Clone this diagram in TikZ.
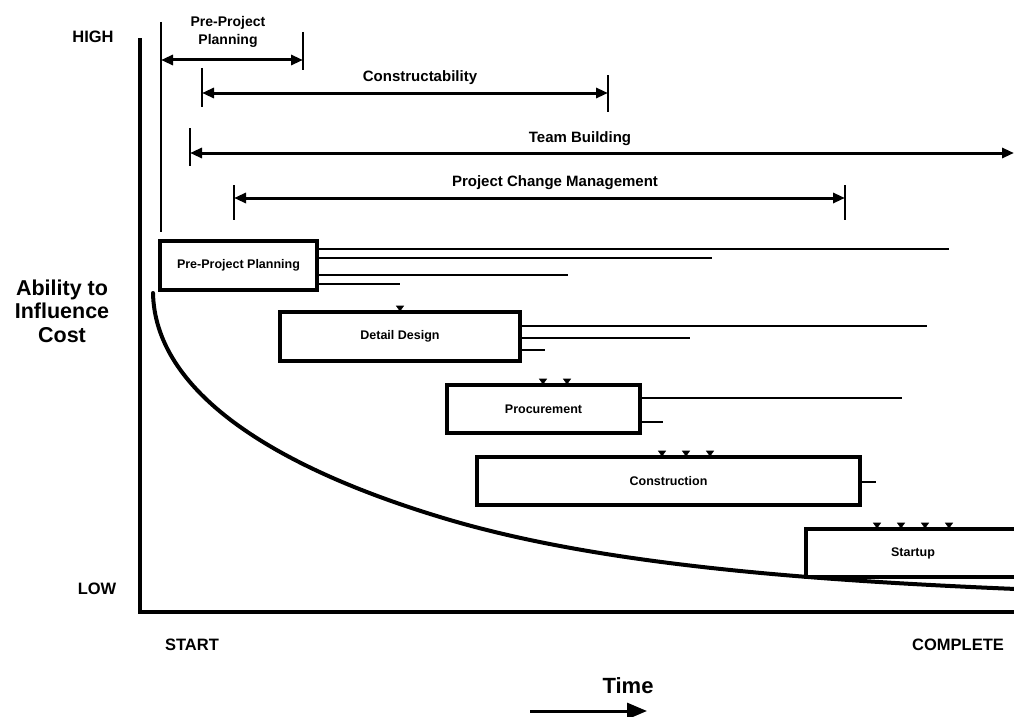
\documentclass[tikz,border=0pt]{standalone}
\usepackage{fontspec}
\setmainfont{Liberation Sans}
\usetikzlibrary{arrows.meta}

\tikzset{
  axis/.style={line width=4pt, line cap=rect},
  phase/.style={draw, line width=3.4pt, font=\fontsize{12.5}{14}\selectfont\bfseries,
                inner sep=0pt},
  lead/.style={line width=1.1pt},
  tickbar/.style={line width=2.2pt},
  span/.style={line width=3pt, {Triangle[length=12pt,width=10pt]}-{Triangle[length=12pt,width=10pt]}},
  spanlabel/.style={font=\fontsize{15}{17}\selectfont\bfseries, align=center, inner sep=0pt},
  axlabel/.style={font=\fontsize{16.5}{18}\selectfont\bfseries, inner sep=0pt},
  topmark/.style={fill=black, draw=black, line width=0.6pt},
}

\begin{document}
\begin{tikzpicture}[x=1pt,y=-1pt]
\useasboundingbox (0,0) rectangle (1014,717);

% axes
\coordinate (ytop) at (140,40);
\coordinate (origin) at (140,612);
\coordinate (xend) at (1016,612);
\draw[axis] (ytop) -- (origin) -- (xend);

% axis labels
\node[axlabel] (high) at (93,37) {HIGH};
\node[axlabel] (low) at (97,589) {LOW};
\node[font=\fontsize{21.5}{23.5}\selectfont\bfseries, align=center, inner sep=0pt]
  (ability) at (62,311) {Ability to\\Influence\\Cost};
\node[axlabel] (start) at (192,645) {START};
\node[axlabel, anchor=west] (complete) at (912,645) {COMPLETE};
\node[font=\fontsize{22}{24}\selectfont\bfseries, inner sep=0pt] (time) at (628,686) {Time};
\coordinate (tarrA) at (530,711);
\coordinate (tarrB) at (647,711);
\draw[line width=3pt, -{Triangle[length=20pt,width=16pt]}] (tarrA) -- (tarrB);

% influence curve
\coordinate (cStart) at (153,293);
\coordinate (cMid) at (450,520);
\coordinate (cEnd) at (1016,589);
\draw[line width=4pt, line cap=round]
  (cStart) .. controls (155,390) and (270,467) .. (cMid)
           .. controls (600,564) and (800,580) .. (cEnd);

% interval bars
\coordinate (ppL1) at (161,22);
\coordinate (ppL2) at (161,232);
\draw[tickbar] (ppL1) -- (ppL2);
\coordinate (ppR1) at (303,32);
\coordinate (ppR2) at (303,70);
\draw[tickbar] (ppR1) -- (ppR2);
\coordinate (ppA) at (161,60);
\coordinate (ppB) at (303,60);
\draw[span] (ppA) -- (ppB);
\node[spanlabel, font=\fontsize{14}{18}\selectfont\bfseries] (pplab) at (228,32) {Pre-Project\\Planning};

\coordinate (cbL1) at (202,68);
\coordinate (cbL2) at (202,107);
\draw[tickbar] (cbL1) -- (cbL2);
\coordinate (cbR1) at (608,75);
\coordinate (cbR2) at (608,112);
\draw[tickbar] (cbR1) -- (cbR2);
\coordinate (cbA) at (202,93);
\coordinate (cbB) at (608,93);
\draw[span] (cbA) -- (cbB);
\node[spanlabel] (cblab) at (420,78) {Constructability};

\coordinate (tbL1) at (190,128);
\coordinate (tbL2) at (190,166);
\draw[tickbar] (tbL1) -- (tbL2);
\coordinate (tbA) at (190,153);
\coordinate (tbB) at (1014,153);
\draw[span] (tbA) -- (tbB);
\node[spanlabel] (tblab) at (580,139) {Team Building};

\coordinate (pcL1) at (234,185);
\coordinate (pcL2) at (234,220);
\draw[tickbar] (pcL1) -- (pcL2);
\coordinate (pcR1) at (845,185);
\coordinate (pcR2) at (845,220);
\draw[tickbar] (pcR1) -- (pcR2);
\coordinate (pcA) at (234,198);
\coordinate (pcB) at (845,198);
\draw[span] (pcA) -- (pcB);
\node[spanlabel] (pclab) at (555,183) {Project Change Management};

% phase boxes
\node[phase, fill=white, minimum width=157pt, minimum height=49pt] (ppp) at (238.5,265.5) {Pre-Project Planning};
\node[phase, fill=white, minimum width=240pt, minimum height=49pt] (dd) at (400,336.5) {Detail Design};
\node[phase, fill=white, minimum width=193pt, minimum height=48pt] (proc) at (543.5,409) {Procurement};
\node[phase, fill=white, minimum width=383pt, minimum height=48pt] (cons) at (668.5,481) {Construction};
\node[phase, fill=white, minimum width=230pt, minimum height=48pt] (su) at (921,553) {};
\node[font=\fontsize{12.5}{14}\selectfont\bfseries, inner sep=0pt] (sulab) at (913,553) {Startup};

% lead lines from each phase
\draw[lead] (ppp.east |- 0,249) -- (949,249);
\draw[lead] (ppp.east |- 0,258) -- (712,258);
\draw[lead] (ppp.east |- 0,275) -- (568,275);
\draw[lead] (ppp.east |- 0,284) -- (400,284);
\draw[lead] (dd.east |- 0,326) -- (927,326);
\draw[lead] (dd.east |- 0,338) -- (690,338);
\draw[lead] (dd.east |- 0,350) -- (545,350);
\draw[lead] (proc.east |- 0,398) -- (902,398);
\draw[lead] (proc.east |- 0,422) -- (663,422);
\draw[lead] (cons.east |- 0,482) -- (876,482);

% small markers on box tops
\foreach \x in {400} {\fill[topmark] (\x-3.5,306) -- (\x+3.5,306) -- (\x,311) -- cycle;}
\foreach \x in {543,567} {\fill[topmark] (\x-3.5,379) -- (\x+3.5,379) -- (\x,384) -- cycle;}
\foreach \x in {662,686,710} {\fill[topmark] (\x-3.5,451) -- (\x+3.5,451) -- (\x,456) -- cycle;}
\foreach \x in {877,901,925,949} {\fill[topmark] (\x-3.5,523) -- (\x+3.5,523) -- (\x,528) -- cycle;}

\end{tikzpicture}
\end{document}
